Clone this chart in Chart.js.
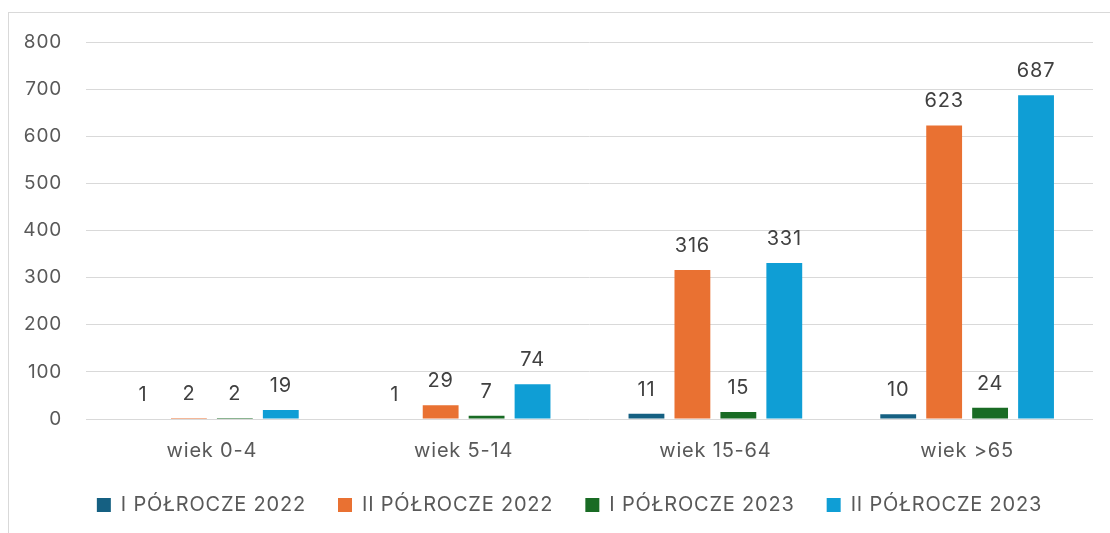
<!DOCTYPE html>
<html>
<head>
<meta charset="utf-8">
<script src="https://cdn.jsdelivr.net/npm/chart.js@4.4.1/dist/chart.umd.min.js"></script>
<style>
  html, body { margin: 0; padding: 0; background: #ffffff; }
  #wrap { position: relative; width: 1110px; height: 533px; overflow: hidden; }
  #frame { position: absolute; left: 8px; top: 12px; right: -2px; bottom: -2px; border-left: 1px solid #d9d9d9; border-top: 1px solid #d9d9d9; }
  #chartWiek { position: absolute; left: 0; top: 0; }
</style>
</head>
<body>
<div id="wrap">
  <div id="frame"></div>
  <canvas id="chartWiek" width="1110" height="533"></canvas>
</div>
<script>
const categories = ['wiek 0-4', 'wiek 5-14', 'wiek 15-64', 'wiek >65'];
const seriesNames = ['I PÓŁROCZE 2022', 'II PÓŁROCZE 2022', 'I PÓŁROCZE 2023', 'II PÓŁROCZE 2023'];
const polrocze1of2022 = [1, 1, 11, 10];
const polrocze2of2022 = [2, 29, 316, 623];
const polrocze1of2023 = [2, 7, 15, 24];
const polrocze2of2023 = [19, 74, 331, 687];
const yTicks = [0, 100, 200, 300, 400, 500, 600, 700, 800];

const colors = ['#156082', '#E97132', '#196B24', '#0F9ED5'];
const FONT = 'Inter, "Liberation Sans", sans-serif';
const SPACING = '0.8px';

// wider letters, closer to the original typeface
const letterSpacing = {
  id: 'letterSpacing',
  beforeUpdate(chart) { chart.ctx.letterSpacing = SPACING; },
  beforeLayout(chart) { chart.ctx.letterSpacing = SPACING; },
  beforeDraw(chart) { chart.ctx.letterSpacing = SPACING; },
};

// legend sits a little right of the canvas centre in the original
const legendShift = {
  id: 'legendShift',
  afterLayout(chart) {
    chart.legend.left += 23;
    chart.legend.right += 23;
  },
};

// value labels above every bar
const valueLabels = {
  id: 'valueLabels',
  afterDatasetsDraw(chart) {
    const { ctx } = chart;
    ctx.save();
    ctx.font = `20px ${FONT}`;
    ctx.fillStyle = '#404040';
    ctx.textAlign = 'center';
    ctx.textBaseline = 'alphabetic';
    chart.data.datasets.forEach((ds, i) => {
      chart.getDatasetMeta(i).data.forEach((bar, j) => {
        ctx.fillText(String(ds.data[j]), bar.x, bar.y - 18);
      });
    });
    ctx.restore();
  },
};

const canvas = document.getElementById('chartWiek');
new Chart(canvas.getContext('2d'), {
  type: 'bar',
  data: {
    labels: categories,
    datasets: [polrocze1of2022, polrocze2of2022, polrocze1of2023, polrocze2of2023].map((data, i) => ({
      label: seriesNames[i],
      data,
      backgroundColor: colors[i],
      borderWidth: 0,
      categoryPercentage: 0.73,
      barPercentage: 0.78,
    })),
  },
  options: {
    responsive: false,
    animation: false,
    layout: { padding: { left: 0, right: 17, top: 42, bottom: 8 } },
    scales: {
      x: {
        afterFit(scale) {
          scale.height = 44;
        },
        grid: { display: false },
        border: { display: false },
        ticks: { color: '#595959', font: { family: FONT, size: 20 }, padding: 12 },
      },
      y: {
        min: 0,
        max: 800,
        afterBuildTicks(scale) {
          scale.ticks = yTicks.map((value) => ({ value }));
        },
        afterFit(scale) {
          scale.width = 86;
        },
        grid: { color: '#d9d9d9', lineWidth: 1, drawTicks: false },
        border: { display: false },
        ticks: { color: '#595959', font: { family: FONT, size: 19 }, padding: 24 },
      },
    },
    plugins: {
      legend: {
        position: 'bottom',
        labels: {
          boxWidth: 14,
          boxHeight: 14,
          padding: 32,
          color: '#595959',
          font: { family: FONT, size: 20 },
        },
      },
      tooltip: { enabled: false },
    },
  },
  plugins: [letterSpacing, legendShift, valueLabels],
});
</script>
</body>
</html>
